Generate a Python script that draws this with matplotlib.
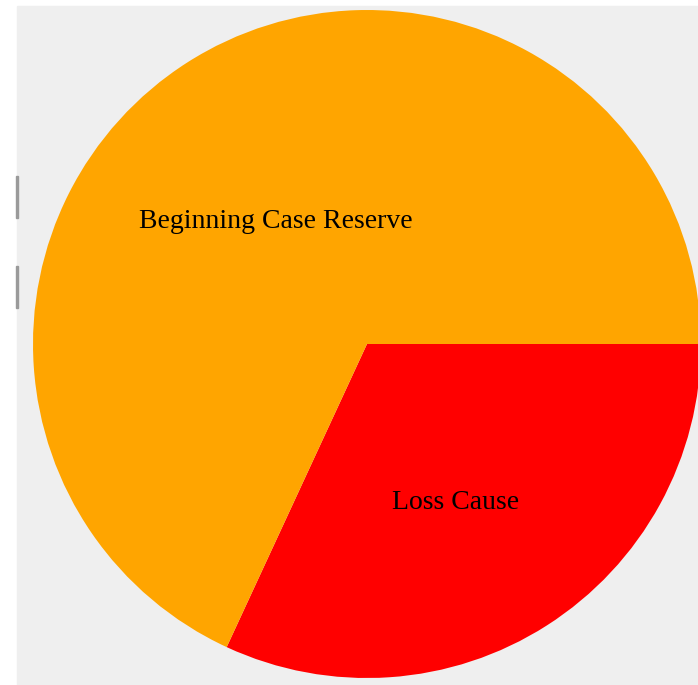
import matplotlib.pyplot as plt
from matplotlib.patches import Rectangle

labels = ["Loss Cause", "Beginning Case Reserve"]
values = [31.9, 68.1]
colors = ["#ff0000", "#ffa500"]

W, H = 698, 685
fig = plt.figure(figsize=(W / 100, H / 100), dpi=100)
fig.patch.set_facecolor("white")

# grey panel behind the pie, plus the little scrollbar marks on the left
fig.patches.append(Rectangle((17 / W, 0), 1 - 17 / W, 1 - 6 / H,
                             transform=fig.transFigure, color="#efefef", zorder=-2))
for y0, y1 in [(176, 218), (266, 308)]:
    fig.patches.append(Rectangle((16 / W, 1 - y1 / H), 2 / W, (y1 - y0) / H,
                                 transform=fig.transFigure, color="#9a9a9a", zorder=-1))

# pie centre ~ (367, 344) px, radius ~ 334 px
ax = fig.add_axes([33 / W, (H - 678) / H, 668 / W, 668 / H])
ax.set_zorder(5)
ax.patch.set_visible(False)

wedges, texts = ax.pie(values, colors=colors, labels=labels, startangle=0,
                       counterclock=False, labeldistance=0.5, radius=1,
                       wedgeprops=dict(linewidth=0),
                       textprops=dict(family="Liberation Serif", fontsize=20, color="black"))
ax.set_xlim(-1, 1)
ax.set_ylim(-1, 1)
ax.axis("off")
for w in wedges:
    w.set_clip_on(False)
for t in texts:
    x, y = t.get_position()
    t.set_position((x - 0.004, y - 0.054))
    t.set_ha("center")
    t.set_va("center")

fig.savefig("out.png", dpi=100)
